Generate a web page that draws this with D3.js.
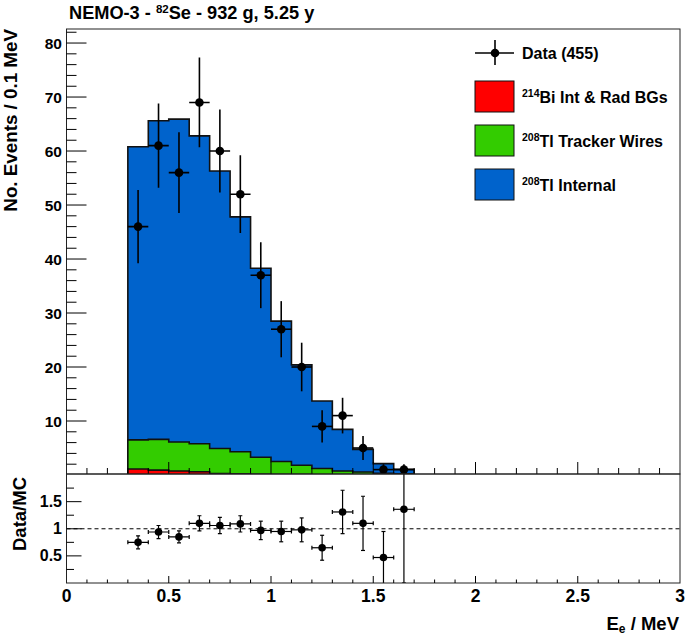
<!DOCTYPE html>
<html>
<head>
<meta charset="utf-8">
<script src="https://cdn.jsdelivr.net/npm/d3@7"></script>
<style>
  body { margin: 0; background: #fff; }
  svg { display: block; font-family: "Liberation Sans", Arial, Helvetica, sans-serif; font-weight: bold; }
</style>
</head>
<body>
<div id="chart"></div>
<script>
//Bin low edges in MeV, every bin is 0.1 MeV wide.
const binLow = [0.3, 0.4, 0.5, 0.6, 0.7, 0.8, 0.9, 1.0, 1.1, 1.2, 1.3, 1.4, 1.5, 1.6];
const binWidth = 0.1;

//MC components (events per bin).
const biIntRad = [1.1, 0.9, 0.75, 0.6, 0.25, 0.2, 0.15, 0.1, 0.1, 0.05, 0.05, 0.03, 0.02, 0.01];
const tlWires = [5.4, 5.7, 5.35, 5.2, 4.65, 4.1, 3.15, 2.4, 1.7, 1.15, 0.7, 0.52, 0.28, 0.19];
const tlInternal = [54.3, 59.0, 59.8, 57.0, 51.4, 43.5, 35.0, 26.0, 18.6, 12.5, 7.7, 4.2, 1.8, 0.85];

//Data points and their errors.
const dataCounts = [46, 61, 56, 69, 60, 52, 37, 27, 20, 9, 11, 5, 1, 1];
const dataErr = [6.8, 7.8, 7.5, 8.3, 7.7, 7.2, 6.1, 5.2, 4.5, 3.0, 3.3, 2.2, 1.0, 1.0];

//Data/MC ratio and errors.
const ratioVals = [0.75, 0.94, 0.85, 1.10, 1.06, 1.09, 0.97, 0.95, 0.98, 0.65, 1.31, 1.10, 0.47, 1.36];
const ratioErr = [0.12, 0.12, 0.11, 0.14, 0.15, 0.15, 0.17, 0.19, 0.22, 0.23, 0.40, 0.50, 0.48, 1.36];

//Tick labels.
const xTickLabels = [0, 0.5, 1, 1.5, 2, 2.5, 3];
const yTickLabels = [10, 20, 30, 40, 50, 60, 70, 80];
const ratioTickLabels = [0.5, 1, 1.5];

const w = 685;
const h = 638;
const left = 66.5;
const right = 680;
const topY = 29;
const splitY = 474;
const bottomY = 583;

const svg = d3.select("#chart")
  .append("svg")
  .attr("width", w)
  .attr("height", h)

svg.append("rect").attr("width", w).attr("height", h).attr("fill", "#fff")

const xScale = d3.scaleLinear().domain([0, 3]).range([left, right])
const yScale = d3.scaleLinear().domain([0, 82.6]).range([475, topY])
const rScale = d3.scaleLinear().domain([0, 2.01]).range([bottomY, splitY])

//Clip paths for both pads.
const defs = svg.append("defs")
defs.append("clipPath").attr("id", "clipTop")
  .append("rect").attr("x", left).attr("y", topY).attr("width", right - left).attr("height", splitY - topY)
defs.append("clipPath").attr("id", "clipBottom")
  .append("rect").attr("x", left).attr("y", splitY).attr("width", right - left).attr("height", bottomY - splitY)

//Build the table for the stack.
const table = binLow.map((x0, i) => ({
  x0: x0,
  bi: biIntRad[i],
  wires: tlWires[i],
  internal: tlInternal[i]
}))
const stack = d3.stack().keys(["bi", "wires", "internal"])(table)
const colors = { bi: "#ff0000", wires: "#33cc00", internal: "#0063cc" }

const topPad = svg.append("g").attr("clip-path", "url(#clipTop)")

//Each cumulative histogram is drawn from zero, biggest first.
stack.slice().reverse().forEach(layer => {
  const pts = []
  layer.forEach(d => {
    pts.push({ x: d.data.x0, v: d[1] })
    pts.push({ x: d.data.x0 + binWidth, v: d[1] })
  })
  const area = d3.area()
    .x(d => xScale(d.x))
    .y0(yScale(0))
    .y1(d => yScale(d.v))
  topPad.append("path")
    .datum(pts)
    .attr("d", area)
    .attr("fill", colors[layer.key])

  const outline = [{ x: pts[0].x, v: 0 }].concat(pts, [{ x: pts[pts.length - 1].x, v: 0 }])
  topPad.append("path")
    .datum(outline)
    .attr("d", d3.line().x(d => xScale(d.x)).y(d => yScale(d.v)))
    .attr("fill", "none")
    .attr("stroke", "#111")
    .attr("stroke-width", 1.6)
})

//Data points with error bars.
const points = topPad.selectAll(".pt")
  .data(binLow)
  .enter()
  .append("g")
  .attr("class", "pt")

points.append("line")
  .attr("x1", d => xScale(d))
  .attr("x2", d => xScale(d + binWidth))
  .attr("y1", (d, i) => yScale(dataCounts[i]))
  .attr("y2", (d, i) => yScale(dataCounts[i]))
  .attr("stroke", "#000").attr("stroke-width", 1.6)
points.append("line")
  .attr("x1", d => xScale(d + binWidth / 2))
  .attr("x2", d => xScale(d + binWidth / 2))
  .attr("y1", (d, i) => yScale(dataCounts[i] - dataErr[i]))
  .attr("y2", (d, i) => yScale(dataCounts[i] + dataErr[i]))
  .attr("stroke", "#000").attr("stroke-width", 1.6)
points.append("circle")
  .attr("cx", d => xScale(d + binWidth / 2))
  .attr("cy", (d, i) => yScale(dataCounts[i]))
  .attr("r", 4.3)
  .attr("fill", "#000")

//Upper pad frame and axes.
svg.append("rect")
  .attr("x", left).attr("y", topY)
  .attr("width", right - left).attr("height", splitY - topY)
  .attr("fill", "none").attr("stroke", "#222").attr("stroke-width", 1)

const yMinor = d3.range(2, 83, 2)
svg.append("g").selectAll("line")
  .data(yMinor)
  .enter()
  .append("line")
  .attr("x1", left)
  .attr("x2", d => left + (d % 10 === 0 ? 20 : 10))
  .attr("y1", d => yScale(d))
  .attr("y2", d => yScale(d))
  .attr("stroke", "#000")

svg.append("g").selectAll("text")
  .data(yTickLabels)
  .enter()
  .append("text")
  .attr("x", 62)
  .attr("y", d => yScale(d) + 5.5)
  .attr("text-anchor", "end")
  .attr("font-size", 15.5)
  .text(d => d)

const xMinor = d3.range(1, 30).map(d => d / 10)
svg.append("g").selectAll("line")
  .data(xMinor)
  .enter()
  .append("line")
  .attr("x1", d => xScale(d))
  .attr("x2", d => xScale(d))
  .attr("y1", splitY)
  .attr("y2", (d, i) => splitY - ((i + 1) % 5 === 0 ? 12 : 6))
  .attr("stroke", "#000")

//Lower (ratio) pad.
const botPad = svg.append("g").attr("clip-path", "url(#clipBottom)")

botPad.append("line")
  .attr("x1", left).attr("x2", right)
  .attr("y1", rScale(1)).attr("y2", rScale(1))
  .attr("stroke", "#000").attr("stroke-width", 1)
  .attr("stroke-dasharray", "4,3")

const rpts = botPad.selectAll(".rpt")
  .data(binLow)
  .enter()
  .append("g")
  .attr("class", "rpt")

rpts.append("line")
  .attr("x1", d => xScale(d))
  .attr("x2", d => xScale(d + binWidth))
  .attr("y1", (d, i) => rScale(ratioVals[i]))
  .attr("y2", (d, i) => rScale(ratioVals[i]))
  .attr("stroke", "#000").attr("stroke-width", 1.2)
rpts.append("line")
  .attr("x1", d => xScale(d + binWidth / 2))
  .attr("x2", d => xScale(d + binWidth / 2))
  .attr("y1", (d, i) => rScale(ratioVals[i] - ratioErr[i]))
  .attr("y2", (d, i) => rScale(ratioVals[i] + ratioErr[i]))
  .attr("stroke", "#000").attr("stroke-width", 1.2)
//End caps.
rpts.each(function(d, i) {
  const g = d3.select(this)
  const cx = xScale(d + binWidth / 2)
  const cy = rScale(ratioVals[i])
  ;[xScale(d), xScale(d + binWidth)].forEach(x => {
    g.append("line").attr("x1", x).attr("x2", x).attr("y1", cy - 2).attr("y2", cy + 2)
      .attr("stroke", "#000").attr("stroke-width", 1.2)
  })
  ;[rScale(ratioVals[i] - ratioErr[i]), rScale(ratioVals[i] + ratioErr[i])].forEach(y => {
    g.append("line").attr("x1", cx - 2).attr("x2", cx + 2).attr("y1", y).attr("y2", y)
      .attr("stroke", "#000").attr("stroke-width", 1.2)
  })
})
rpts.append("circle")
  .attr("cx", d => xScale(d + binWidth / 2))
  .attr("cy", (d, i) => rScale(ratioVals[i]))
  .attr("r", 3.8)
  .attr("fill", "#000")

svg.append("rect")
  .attr("x", left).attr("y", splitY)
  .attr("width", right - left).attr("height", bottomY - splitY)
  .attr("fill", "none").attr("stroke", "#222").attr("stroke-width", 1)

const rMinor = d3.range(1, 8).map(d => d * 0.25)
svg.append("g").selectAll("line")
  .data(rMinor)
  .enter()
  .append("line")
  .attr("x1", left)
  .attr("x2", (d, i) => left + ((i + 1) % 2 === 0 ? 15 : 7.5))
  .attr("y1", d => rScale(d))
  .attr("y2", d => rScale(d))
  .attr("stroke", "#000")

svg.append("g").selectAll("text")
  .data(ratioTickLabels)
  .enter()
  .append("text")
  .attr("x", 62)
  .attr("y", d => rScale(d) + 5.5)
  .attr("text-anchor", "end")
  .attr("font-size", 16)
  .text(d => d)

svg.append("g").selectAll("line")
  .data(xMinor)
  .enter()
  .append("line")
  .attr("x1", d => xScale(d))
  .attr("x2", d => xScale(d))
  .attr("y1", bottomY)
  .attr("y2", (d, i) => bottomY - ((i + 1) % 5 === 0 ? 7 : 3.5))
  .attr("stroke", "#000")

svg.append("g").selectAll("text")
  .data(xTickLabels)
  .enter()
  .append("text")
  .attr("x", d => xScale(d))
  .attr("y", 602)
  .attr("text-anchor", "middle")
  .attr("font-size", 17.5)
  .text(d => d)

//Titles.
const title = svg.append("text")
  .attr("x", 69)
  .attr("y", 19)
  .attr("font-size", 18.2)
title.append("tspan").text("NEMO-3 - ")
title.append("tspan").attr("font-size", 11.5).attr("dy", -6.5).text("82")
title.append("tspan").attr("dy", 6.5).text("Se - 932 g, 5.25 y")

svg.append("text")
  .attr("transform", "translate(17,29) rotate(-90)")
  .attr("text-anchor", "end")
  .attr("font-size", 18.8)
  .text("No. Events / 0.1 MeV")

svg.append("text")
  .attr("transform", "translate(26,477) rotate(-90)")
  .attr("text-anchor", "end")
  .attr("font-size", 18.5)
  .text("Data/MC")

const xTitle = svg.append("text")
  .attr("x", 679)
  .attr("y", 630)
  .attr("text-anchor", "end")
  .attr("font-size", 18.5)
xTitle.append("tspan").text("E")
xTitle.append("tspan").attr("font-size", 12).attr("dy", 3).text("e")
xTitle.append("tspan").attr("dy", -3).text(" / MeV")

//Legend.
const legend = svg.append("g")
legend.append("line").attr("x1", 475).attr("x2", 514).attr("y1", 53).attr("y2", 53).attr("stroke", "#000").attr("stroke-width", 1.6)
legend.append("line").attr("x1", 495).attr("x2", 495).attr("y1", 40).attr("y2", 65).attr("stroke", "#000").attr("stroke-width", 1.6)
legend.append("circle").attr("cx", 495).attr("cy", 53).attr("r", 4.3).attr("fill", "#000")
legend.append("text").attr("x", 522).attr("y", 59).attr("font-size", 16).text("Data (455)")

const legendItems = [
  { key: "bi", sup: "214", label: "Bi Int & Rad BGs", y: 81 },
  { key: "wires", sup: "208", label: "Tl Tracker Wires", y: 125 },
  { key: "internal", sup: "208", label: "Tl Internal", y: 169 }
]
legendItems.forEach(item => {
  legend.append("rect")
    .attr("x", 475).attr("y", item.y)
    .attr("width", 39).attr("height", 31)
    .attr("fill", colors[item.key])
    .attr("stroke", "#111").attr("stroke-width", 1)
  const t = legend.append("text").attr("x", 522).attr("y", item.y + 22).attr("font-size", 16)
  t.append("tspan").attr("font-size", 10.5).attr("dy", -6).text(item.sup)
  t.append("tspan").attr("dy", 6).text(item.label)
})
</script>
</body>
</html>
